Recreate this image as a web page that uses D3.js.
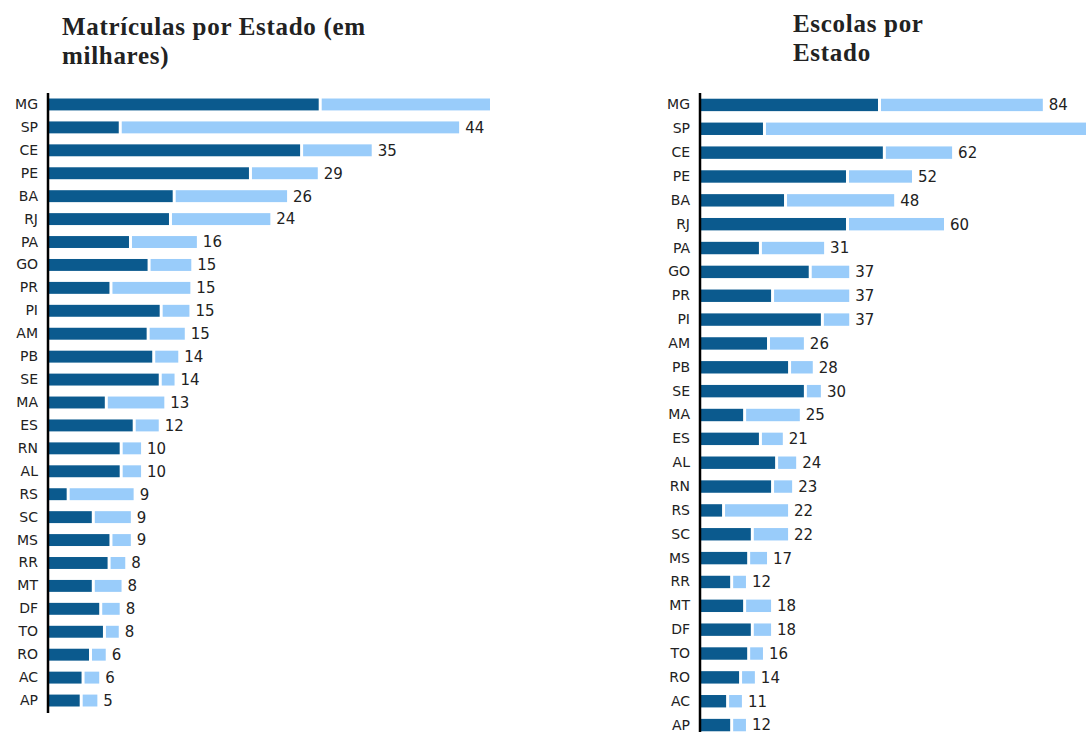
<!DOCTYPE html>
<html lang="pt">
<head>
<meta charset="utf-8">
<title>Matrículas e Escolas por Estado</title>
<script src="https://d3js.org/d3.v7.min.js"></script>
<style>
  body { margin: 0; background: #fff; }
  .title { font-family: 'Liberation Serif', 'Times New Roman', serif; font-weight: bold; font-size: 25px; letter-spacing: 0.7px; fill: #222; }
  .state { font-family: 'DejaVu Sans', Verdana, sans-serif; font-size: 14px; fill: #222; }
  .val { font-family: 'DejaVu Sans', Verdana, sans-serif; font-size: 15px; fill: #222; }
</style>
</head>
<body>
<svg id="chart" width="1086" height="732"></svg>

<script>
// Matrículas por Estado (em milhares)
var matStates = ["MG","SP","CE","PE","BA","RJ","PA","GO","PR","PI","AM","PB","SE","MA","ES","RN","AL","RS","SC","MS","RR","MT","DF","TO","RO","AC","AP"];
var matDark   = [29.0, 7.5, 27.0, 21.5, 13.3, 12.9, 8.6, 10.6, 6.5, 11.9, 10.5, 11.1, 11.8, 6.0, 9.0, 7.6, 7.6, 1.9, 4.6, 6.5, 6.3, 4.6, 5.4, 5.8, 4.3, 3.5, 3.3];
var matTotal  = [49.0, 44.1, 34.7, 28.9, 25.6, 23.8, 15.9, 15.3, 15.2, 15.1, 14.6, 13.9, 13.5, 12.4, 11.8, 9.9, 9.9, 9.1, 8.8, 8.8, 8.2, 7.8, 7.6, 7.5, 6.1, 5.4, 5.2];
var matLabels = ["", "44", "35", "29", "26", "24", "16", "15", "15", "15", "15", "14", "14", "13", "12", "10", "10", "9", "9", "9", "8", "8", "8", "8", "6", "6", "5"];

// Escolas por Estado
var escStates = ["MG","SP","CE","PE","BA","RJ","PA","GO","PR","PI","AM","PB","SE","MA","ES","AL","RN","RS","SC","MS","RR","MT","DF","TO","RO","AC","AP"];
var escDark   = [43.7, 15.3, 44.9, 35.8, 20.5, 35.8, 14.3, 26.6, 17.3, 29.6, 16.3, 21.5, 25.4, 10.4, 14.3, 18.3, 17.3, 5.2, 12.3, 11.4, 7.2, 10.4, 12.3, 11.4, 9.4, 6.2, 7.2];
var escTotal  = [84.4, 104, 62.0, 52.1, 47.7, 60.0, 30.4, 36.6, 36.6, 36.6, 25.4, 27.6, 29.6, 24.4, 20.2, 23.5, 22.5, 21.5, 21.5, 16.3, 11.1, 17.3, 17.3, 15.3, 13.3, 10.1, 11.1];
var escLabels = ["84", "", "62", "52", "48", "60", "31", "37", "37", "37", "26", "28", "30", "25", "21", "24", "23", "22", "22", "17", "12", "18", "18", "16", "14", "11", "12"];

var darkColor = "#0b5a8e";
var lightColor = "#99ccfa";

var svg = d3.select("#chart");
svg.append("rect").attr("width", 1086).attr("height", 732).attr("fill", "#fff");

function drawChart(opts) {
  var g = svg.append("g");
  if (opts.clipW) {
    svg.append("clipPath").attr("id", opts.id + "-clip")
      .append("rect").attr("x", 0).attr("y", 0).attr("width", opts.clipW).attr("height", 732);
    g.attr("clip-path", "url(#" + opts.id + "-clip)");
  }

  var x = d3.scaleLinear().domain([0, 1]).range([opts.x0, opts.x0 + opts.k]);
  var y = d3.scaleBand().domain(opts.states).range(opts.yRange).paddingInner(0.48).paddingOuter(0.24);

  var rows = opts.states.map(function(s, i) {
    return { state: s, dark: opts.dark[i], total: opts.total[i], label: opts.labels[i] };
  });

  // title
  var t = svg.append("text").attr("class", "title").attr("x", opts.titleX).attr("y", opts.titleY);
  opts.title.forEach(function(line, i) {
    t.append("tspan").attr("x", opts.titleX).attr("y", opts.titleY + i * 29).text(line);
  });

  g.selectAll(".dark").data(rows).enter().append("rect")
    .attr("x", x(0))
    .attr("y", function(d) { return y(d.state); })
    .attr("width", function(d) { return x(d.dark) - x(0); })
    .attr("height", y.bandwidth())
    .attr("fill", darkColor);

  g.selectAll(".light").data(rows).enter().append("rect")
    .attr("x", function(d) { return x(d.dark) + 3; })
    .attr("y", function(d) { return y(d.state); })
    .attr("width", function(d) { return Math.max(0, x(d.total) - x(d.dark) - 3); })
    .attr("height", y.bandwidth())
    .attr("fill", lightColor);

  g.selectAll(".val").data(rows).enter().append("text")
    .attr("class", "val")
    .attr("x", function(d) { return x(d.total) + 6; })
    .attr("y", function(d) { return y(d.state) + y.bandwidth() / 2; })
    .attr("dy", "0.36em")
    .text(function(d) { return d.label; });

  // state axis
  var axis = d3.axisLeft(y).tickSize(0).tickPadding(10);
  var ax = svg.append("g").attr("transform", "translate(" + (opts.x0 - 1) + ",0)").call(axis);
  ax.attr("font-size", null).attr("font-family", null);
  ax.select(".domain").remove();
  ax.selectAll("text").attr("class", "state");
  svg.append("line")
    .attr("x1", opts.x0 - 1).attr("x2", opts.x0 - 1)
    .attr("y1", opts.axisY[0]).attr("y2", opts.axisY[1])
    .attr("stroke", "#000").attr("stroke-width", 2.5);
}

drawChart({
  id: "mat", states: matStates, dark: matDark, total: matTotal, labels: matLabels,
  x0: 49, k: 9.3, yRange: [93, 712], axisY: [93, 713], clipW: 490,
  title: ["Matrículas por Estado (em", "milhares)"], titleX: 62, titleY: 35
});

drawChart({
  id: "esc", states: escStates, dark: escDark, total: escTotal, labels: escLabels,
  x0: 701, k: 4.05, yRange: [93, 737], axisY: [93, 732],
  title: ["Escolas por", "Estado"], titleX: 793, titleY: 32
});
</script>
</body>
</html>
